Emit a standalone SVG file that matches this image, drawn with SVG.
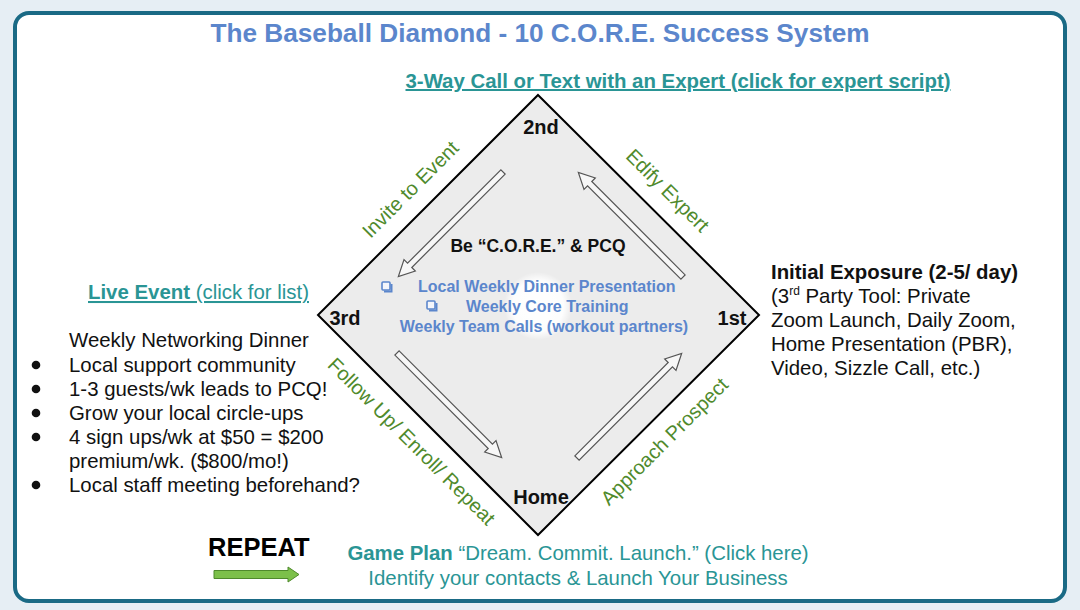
<svg xmlns="http://www.w3.org/2000/svg" width="1080" height="610" viewBox="0 0 1080 610">
<defs>
<style>
.t{font-family:"Liberation Sans",Arial,sans-serif}
.b{font-weight:bold}
.teal{fill:#2a9595}
.blue{fill:#5b86cc}
.green{fill:#4f8a2c;font-size:20px}
.base{font-size:20px;font-weight:bold;fill:#111}
.body{font-size:20.4px;fill:#111}
.arr{fill:#f7f7f7;stroke:#555;stroke-width:1.2}
.chk{fill:#f4f6fb;stroke:#5b86cc;stroke-width:1.6}
</style>
<polygon id="blk" points="0,-3 132,-3 132,-8 148,0 132,8 132,3 0,3"/>
<g id="cbox"><path d="M2,9.5 H9.5 V2" fill="none" stroke="#5b86cc" stroke-width="2"/><rect x="0" y="0" width="8" height="8" rx="1" class="chk"/></g>
<radialGradient id="glow">
<stop offset="0" stop-color="#fff" stop-opacity="1"/>
<stop offset="0.75" stop-color="#fff" stop-opacity="0.9"/>
<stop offset="1" stop-color="#fff" stop-opacity="0"/>
</radialGradient>
</defs>
<rect width="1080" height="610" fill="#e6eef4"/>
<rect x="15" y="13" width="1050" height="588" rx="14" fill="#fff" stroke="#1a6a85" stroke-width="4"/>

<g id="title">
<text class="t b blue" x="540" y="42" font-size="26" text-anchor="middle" textLength="659" lengthAdjust="spacingAndGlyphs">The Baseball Diamond - 10 C.O.R.E. Success System</text>
</g>
<g id="expert-link">
<text class="t b teal" x="678" y="88" font-size="20" text-anchor="middle" text-decoration="underline" textLength="545" lengthAdjust="spacingAndGlyphs">3-Way Call or Text with an Expert (click for expert script)</text>
</g>

<g id="diamond">
<polygon points="538,95 759,315 538,535 318,315" fill="#ececec" stroke="#000" stroke-width="2"/>
<circle cx="538" cy="306" r="34" fill="url(#glow)"/>
</g>

<g id="connectors">
<use href="#blk" class="arr" transform="translate(503,172) rotate(135)"/>
<use href="#blk" class="arr" transform="translate(683,277) rotate(-135)"/>
<use href="#blk" class="arr" transform="translate(397,353) rotate(45)"/>
<use href="#blk" class="arr" transform="translate(577,458) rotate(-45)"/>
</g>

<g id="base-2nd"><text class="t base" x="541" y="134" text-anchor="middle">2nd</text></g>
<g id="base-3rd"><text class="t base" x="345" y="325" text-anchor="middle">3rd</text></g>
<g id="base-1st"><text class="t base" x="732" y="325" text-anchor="middle">1st</text></g>
<g id="base-home"><text class="t base" x="541" y="504" text-anchor="middle">Home</text></g>

<g id="edge-labels">
<text class="t green" transform="translate(411,190) rotate(-45)" y="6" text-anchor="middle">Invite to Event</text>
<text class="t green" transform="translate(667,191) rotate(45)" y="6" text-anchor="middle">Edify Expert</text>
<text class="t green" transform="translate(411,442) rotate(45)" y="6" text-anchor="middle">Follow Up/ Enroll/ Repeat</text>
<text class="t green" transform="translate(665,442) rotate(-45)" y="6" text-anchor="middle">Approach Prospect</text>
</g>

<g id="center">
<text class="t b" x="538" y="252" font-size="17.5" text-anchor="middle" fill="#111">Be “C.O.R.E.” &amp; PCQ</text>
<use href="#cbox" transform="translate(382,282)"/>
<text class="t b blue" x="418" y="292" font-size="16">Local Weekly Dinner Presentation</text>
<use href="#cbox" transform="translate(427,301)"/>
<text class="t b blue" x="466" y="312" font-size="16">Weekly Core Training</text>
<text class="t b blue" x="544" y="332" font-size="16" text-anchor="middle">Weekly Team Calls (workout partners)</text>
</g>

<g id="live-event">
<text class="t teal" x="88" y="299" font-size="20.4" text-decoration="underline"><tspan font-weight="bold">Live Event</tspan> (click for list)</text>
<text class="t body" x="69" y="347">Weekly Networking Dinner</text>
<g fill="#111">
<circle cx="36" cy="365" r="4.3"/>
<circle cx="36" cy="389" r="4.3"/>
<circle cx="36" cy="413" r="4.3"/>
<circle cx="36" cy="437" r="4.3"/>
<circle cx="36" cy="485" r="4.3"/>
</g>
<g class="t body">
<text x="69" y="372">Local support community</text>
<text x="69" y="396">1-3 guests/wk leads to PCQ!</text>
<text x="69" y="420">Grow your local circle-ups</text>
<text x="69" y="444">4 sign ups/wk at $50 = $200</text>
<text x="69" y="468">premium/wk. ($800/mo!)</text>
<text x="69" y="492">Local staff meeting beforehand?</text>
</g>
</g>

<g id="initial-exposure" class="t body">
<text x="771" y="279" font-weight="bold">Initial Exposure (2-5/ day)</text>
<text x="771" y="303">(3<tspan font-size="12" dy="-8">rd</tspan><tspan dy="8"> Party Tool: Private</tspan></text>
<text x="771" y="327">Zoom Launch, Daily Zoom,</text>
<text x="771" y="351">Home Presentation (PBR),</text>
<text x="771" y="375">Video, Sizzle Call, etc.)</text>
</g>

<g id="repeat">
<text class="t b" x="208" y="556" font-size="25.5" fill="#000">REPEAT</text>
<polygon points="214,570.5 288,570.5 288,567 299,574.5 288,582 288,578.5 214,578.5" fill="#7cc04a" stroke="#4f8a2c" stroke-width="1"/>
</g>

<g id="game-plan" class="t teal" font-size="20.4">
<text x="578" y="560" text-anchor="middle"><tspan font-weight="bold">Game Plan</tspan> “Dream. Commit. Launch.” (Click here)</text>
<text x="578" y="585" text-anchor="middle">Identify your contacts &amp; Launch Your Business</text>
</g>
</svg>
